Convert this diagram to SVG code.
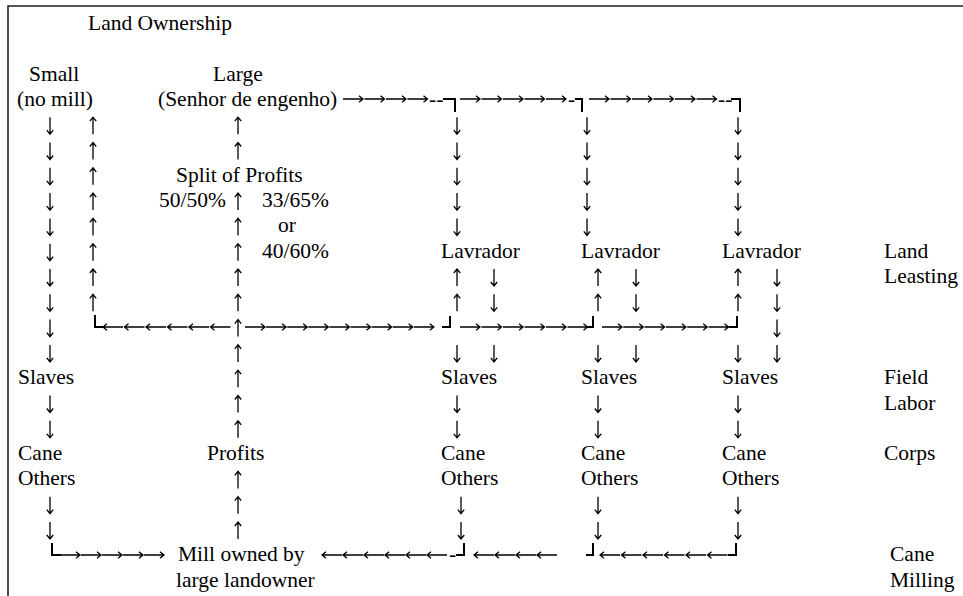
<svg xmlns="http://www.w3.org/2000/svg" width="963" height="596" viewBox="0 0 963 596" font-family="'Liberation Serif', 'Times New Roman', serif" font-size="21.5">
<style>
.c{fill:none;stroke:#000;stroke-width:2}
.b{fill:none;stroke:#222;stroke-width:1.6}
.ar{fill:none;stroke:#000;stroke-width:1.3;stroke-linecap:butt;stroke-linejoin:miter}
</style>
<defs>
<path id="r" class="ar" d="M0 0 H20 M16 -3.2 L20 0 L16 3.2"/>
<path id="l" class="ar" d="M0 0 H20 M4 -3.2 L0 0 L4 3.2"/>
<path id="d" class="ar" d="M0 0 V17 M-3.2 13 L0 17 L3.2 13"/>
<path id="u" class="ar" d="M0 0 V17 M-3.2 4 L0 0 L3.2 4"/>
</defs>
<rect width="963" height="596" fill="#fff"/>
<path class="b" d="M8 596 V6 H963"/>

<g id="nodes" fill="#000" font-family="'Liberation Serif', 'Times New Roman', serif" font-size="21.5">
<g id="n-title"><text x="88" y="30">Land Ownership</text></g>
<g id="n-small"><text x="29" y="80.6">Small</text><text x="17" y="105.9">(no mill)</text></g>
<g id="n-large"><text x="213" y="80.6">Large</text><text x="158" y="105.9">(Senhor de engenho)</text></g>
<g id="n-split"><text x="176" y="181.8">Split of Profits</text><text x="159" y="207.1">50/50%</text><text x="262" y="207.1">33/65%</text><text x="278" y="232.4">or</text><text x="262" y="257.7">40/60%</text></g>
<g id="n-lav1"><text x="441" y="257.7">Lavrador</text></g>
<g id="n-lav2"><text x="581" y="257.7">Lavrador</text></g>
<g id="n-lav3"><text x="722" y="257.7">Lavrador</text></g>
<g id="n-slaves0"><text x="18" y="384.2">Slaves</text></g>
<g id="n-slaves1"><text x="441" y="384.2">Slaves</text></g>
<g id="n-slaves2"><text x="581" y="384.2">Slaves</text></g>
<g id="n-slaves3"><text x="722" y="384.2">Slaves</text></g>
<g id="n-cane0"><text x="18" y="460.1">Cane</text><text x="18" y="485.4">Others</text></g>
<g id="n-cane1"><text x="441" y="460.1">Cane</text><text x="441" y="485.4">Others</text></g>
<g id="n-cane2"><text x="581" y="460.1">Cane</text><text x="581" y="485.4">Others</text></g>
<g id="n-cane3"><text x="722" y="460.1">Cane</text><text x="722" y="485.4">Others</text></g>
<g id="n-profits"><text x="207" y="460.1">Profits</text></g>
<g id="n-mill"><text x="178" y="561.3">Mill owned by</text><text x="176" y="586.6">large landowner</text></g>
<g id="lbl-leasing"><text x="884" y="257.7">Land</text><text x="884" y="283">Leasting</text></g>
<g id="lbl-field"><text x="884" y="384.2">Field</text><text x="884" y="409.5">Labor</text></g>
<g id="lbl-corps"><text x="884" y="460.1">Corps</text></g>
<g id="lbl-milling"><text x="890" y="561.3">Cane</text><text x="890" y="586.6">Milling</text></g>
</g>

<g id="connectors" fill="#000" font-family="'Liberation Serif', 'Times New Roman', serif" font-size="21.5">
<!-- Small: down column -->
<use href="#d" x="50" y="117.2"/><use href="#d" x="50" y="142.5"/><use href="#d" x="50" y="167.8"/><use href="#d" x="50" y="193.1"/><use href="#d" x="50" y="218.4"/><use href="#d" x="50" y="243.7"/><use href="#d" x="50" y="269"/><use href="#d" x="50" y="294.3"/><use href="#d" x="50" y="319.6"/><use href="#d" x="50" y="344.9"/><use href="#d" x="50" y="395.5"/><use href="#d" x="50" y="420.8"/><use href="#d" x="50" y="496.7"/><use href="#d" x="50" y="522"/>
<!-- Small: up column -->
<use href="#u" x="93" y="117.2"/><use href="#u" x="93" y="142.5"/><use href="#u" x="93" y="167.8"/><use href="#u" x="93" y="193.1"/><use href="#u" x="93" y="218.4"/><use href="#u" x="93" y="243.7"/><use href="#u" x="93" y="269"/><use href="#u" x="93" y="294.3"/>
<!-- Large: up column -->
<use href="#u" x="238" y="117.2"/><use href="#u" x="238" y="142.5"/><use href="#u" x="238" y="193.1"/><use href="#u" x="238" y="218.4"/><use href="#u" x="238" y="243.7"/><use href="#u" x="238" y="269"/><use href="#u" x="238" y="294.3"/><use href="#u" x="238" y="319.6"/><use href="#u" x="238" y="344.9"/><use href="#u" x="238" y="370.2"/><use href="#u" x="238" y="395.5"/><use href="#u" x="238" y="420.8"/><use href="#u" x="238" y="471.4"/><use href="#u" x="238" y="496.7"/><use href="#u" x="238" y="522"/>
<!-- Lavrador 1 -->
<use href="#d" x="457" y="117.2"/><use href="#d" x="457" y="142.5"/><use href="#d" x="457" y="167.8"/><use href="#d" x="457" y="193.1"/><use href="#d" x="457" y="218.4"/>
<use href="#u" x="457" y="269"/><use href="#u" x="457" y="294.3"/>
<use href="#d" x="494" y="269"/><use href="#d" x="494" y="294.3"/><use href="#d" x="494" y="344.9"/>
<use href="#d" x="457" y="344.9"/><use href="#d" x="457" y="395.5"/><use href="#d" x="457" y="420.8"/>
<use href="#d" x="461" y="496.7"/><use href="#d" x="461" y="522"/>
<!-- Lavrador 2 -->
<use href="#d" x="587" y="117.2"/><use href="#d" x="587" y="142.5"/><use href="#d" x="587" y="167.8"/><use href="#d" x="587" y="193.1"/><use href="#d" x="587" y="218.4"/>
<use href="#u" x="598" y="269"/><use href="#u" x="598" y="294.3"/>
<use href="#d" x="636" y="269"/><use href="#d" x="636" y="294.3"/><use href="#d" x="636" y="344.9"/>
<use href="#d" x="598" y="344.9"/><use href="#d" x="598" y="395.5"/><use href="#d" x="598" y="420.8"/><use href="#d" x="598" y="496.7"/><use href="#d" x="598" y="522"/>
<!-- Lavrador 3 -->
<use href="#d" x="738" y="117.2"/><use href="#d" x="738" y="142.5"/><use href="#d" x="738" y="167.8"/><use href="#d" x="738" y="193.1"/><use href="#d" x="738" y="218.4"/>
<use href="#u" x="738" y="269"/><use href="#u" x="738" y="294.3"/>
<use href="#d" x="777" y="269"/><use href="#d" x="777" y="294.3"/><use href="#d" x="777" y="319.6"/><use href="#d" x="777" y="344.9"/>
<use href="#d" x="738" y="344.9"/><use href="#d" x="738" y="395.5"/><use href="#d" x="738" y="420.8"/><use href="#d" x="738" y="496.7"/><use href="#d" x="738" y="522"/>

<!-- row: Senhor de engenho to lavradores -->
<use href="#r" x="343" y="99"/><use href="#r" x="364.5" y="99"/><use href="#r" x="386" y="99"/><use href="#r" x="407.5" y="99"/>
<text x="429" y="105.9">--</text>
<path class="c" d="M443 99 H455 V112"/>
<use href="#r" x="460" y="99"/><use href="#r" x="481.5" y="99"/><use href="#r" x="503" y="99"/><use href="#r" x="524.5" y="99"/><use href="#r" x="546" y="99"/>
<text x="568" y="105.9">-</text>
<path class="c" d="M575 99 H582 V112"/>
<use href="#r" x="589" y="99"/><use href="#r" x="610.5" y="99"/><use href="#r" x="632" y="99"/><use href="#r" x="653.5" y="99"/><use href="#r" x="675" y="99"/><use href="#r" x="696.5" y="99"/>
<text x="718" y="105.9">--</text>
<path class="c" d="M731 99 H740 V112"/>

<!-- row: split of profits -->
<path class="c" d="M95 315 V327 H104"/>
<use href="#l" x="103" y="327"/><use href="#l" x="124.5" y="327"/><use href="#l" x="146" y="327"/><use href="#l" x="167.5" y="327"/><use href="#l" x="189" y="327"/><use href="#l" x="210.5" y="327"/>
<use href="#r" x="245" y="327"/><use href="#r" x="266.1" y="327"/><use href="#r" x="287.2" y="327"/><use href="#r" x="308.3" y="327"/><use href="#r" x="329.4" y="327"/><use href="#r" x="350.5" y="327"/><use href="#r" x="371.6" y="327"/><use href="#r" x="392.7" y="327"/><use href="#r" x="413.8" y="327"/>
<path class="c" d="M442 327 H450 V316"/>
<use href="#r" x="460" y="327"/><use href="#r" x="481.5" y="327"/><use href="#r" x="503" y="327"/><use href="#r" x="524.5" y="327"/><use href="#r" x="546" y="327"/><use href="#r" x="567.5" y="327"/>
<path class="c" d="M586 327 H593 V316"/>
<use href="#r" x="602" y="327"/><use href="#r" x="623.3" y="327"/><use href="#r" x="644.6" y="327"/><use href="#r" x="665.9" y="327"/><use href="#r" x="687.2" y="327"/><use href="#r" x="708.5" y="327"/>
<path class="c" d="M729 327 H737 V316"/>

<!-- row: mill -->
<path class="c" d="M52 543 V555 H61"/>
<use href="#r" x="60" y="555"/><use href="#r" x="81" y="555"/><use href="#r" x="102" y="555"/><use href="#r" x="123" y="555"/><use href="#r" x="144" y="555"/>
<use href="#l" x="322" y="555"/><use href="#l" x="343" y="555"/><use href="#l" x="364" y="555"/><use href="#l" x="385" y="555"/><use href="#l" x="406" y="555"/><use href="#l" x="427" y="555"/>
<text x="449" y="561.3">-</text>
<path class="c" d="M456 555 H464 V543"/>
<use href="#l" x="474" y="555"/><use href="#l" x="495" y="555"/><use href="#l" x="516" y="555"/><use href="#l" x="537" y="555"/>
<path class="c" d="M586 555 H593 V543"/>
<use href="#l" x="600" y="555"/><use href="#l" x="621.5" y="555"/><use href="#l" x="643" y="555"/><use href="#l" x="664.5" y="555"/><use href="#l" x="686" y="555"/><use href="#l" x="707.5" y="555"/>
<path class="c" d="M728 555 H736 V543"/>
</g>
</svg>
